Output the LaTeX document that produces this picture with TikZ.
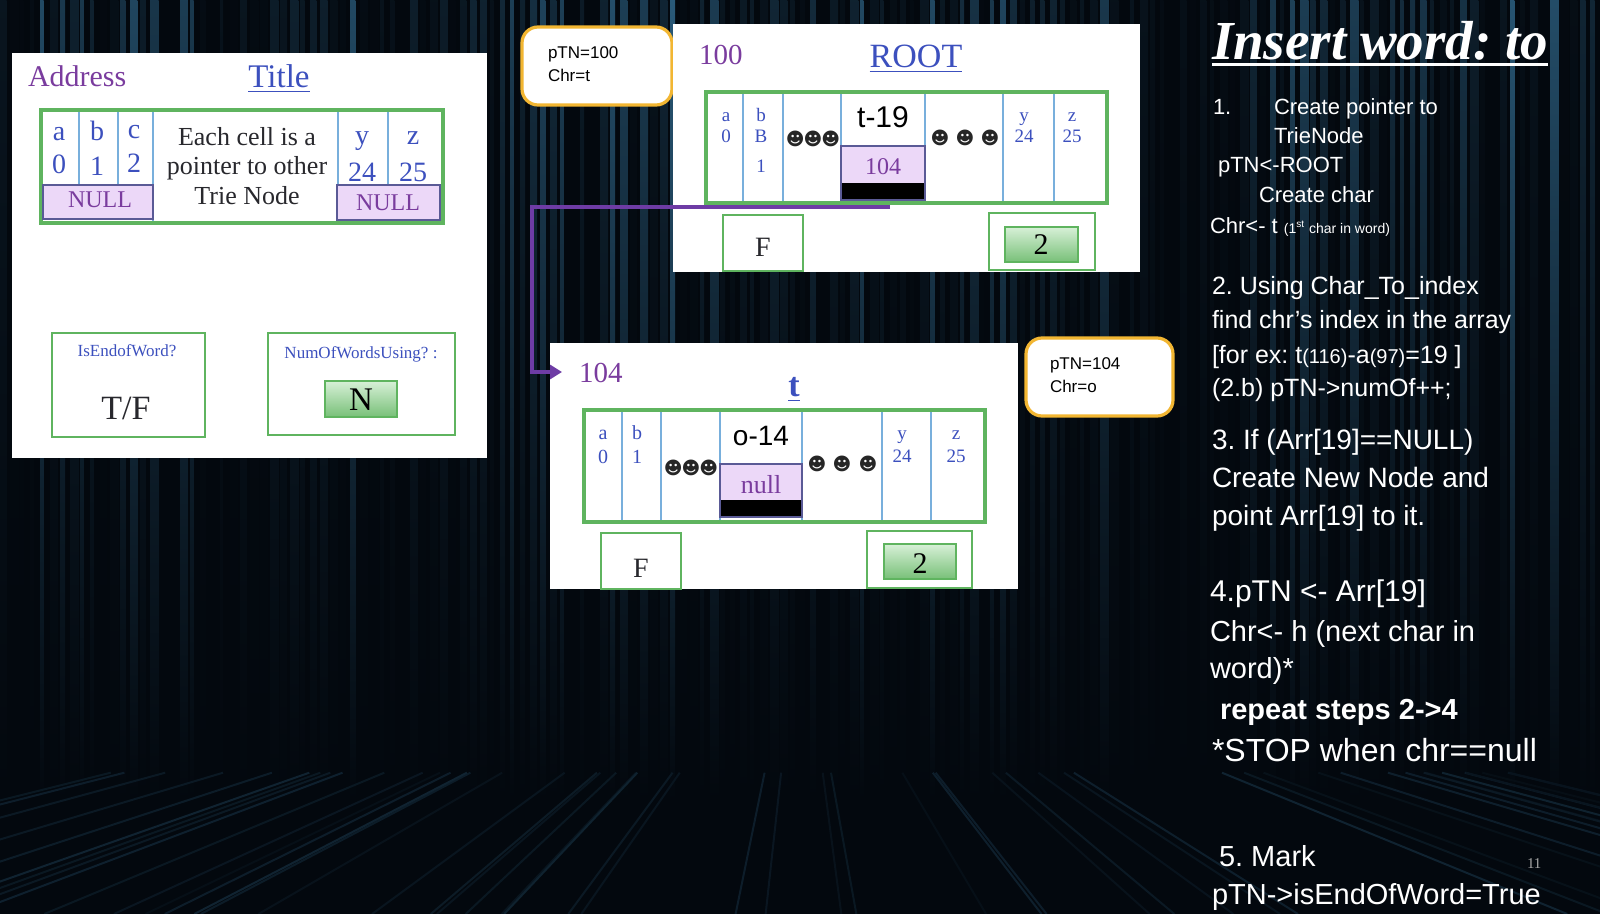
\documentclass[tikz,border=0pt]{standalone}
\usepackage{fontspec}
\setmainfont{Liberation Serif}
\setsansfont{Liberation Sans}
\newfontfamily\dejavu{DejaVu Sans}
\usetikzlibrary{fit,arrows.meta,calc}
\definecolor{grn}{RGB}{95,180,95}
\definecolor{lblue}{RGB}{120,175,220}
\definecolor{purp}{RGB}{122,60,158}
\definecolor{tblue}{RGB}{60,80,190}
\definecolor{lav}{RGB}{236,216,248}
\definecolor{lavb}{RGB}{90,90,150}
\definecolor{gold}{RGB}{242,182,50}
\definecolor{matblue}{RGB}{70,150,200}
\definecolor{ngreenA}{RGB}{215,240,215}
\definecolor{ngreenB}{RGB}{120,192,120}
\definecolor{arrowp}{RGB}{110,60,165}
\definecolor{dgray}{RGB}{40,40,45}
\definecolor{bgblack}{RGB}{3,8,14}
\newcommand\fz[1]{\fontsize{#1}{#1}\selectfont}
\frenchspacing
\tikzset{
  txt/.style={inner sep=0pt, outer sep=0pt},
  panel/.style={fill=white, inner sep=0pt, outer sep=0pt},
  arrbox/.style={draw=grn, line width=1.6pt, inner sep=0pt},
  divl/.style={draw=lblue, line width=0.9pt},
  nullbox/.style={fill=lav, draw=lavb, line width=1.3pt, inner sep=0pt},
  fieldbox/.style={fill=white, draw=grn, line width=1.2pt, inner sep=0pt},
  cntbox/.style={top color=ngreenA, bottom color=ngreenB, draw=grn, line width=0.8pt, inner sep=0pt},
  ptnbox/.style={fill=white, draw=gold, line width=1.6pt, rounded corners=8pt, inner sep=0pt},
  lbl/.style={txt, anchor=base, text=tblue, font=\fz{9.5pt}},
  smile/.style={txt, font=\dejavu\fz{9pt}, text=black!85},
  ptr/.style={draw=arrowp, line width=2pt, -{Triangle[length=6pt,width=7pt]}},
  rt/.style={txt, anchor=base west, text=white, font=\sffamily\fz{11pt}},
}
\begin{document}
\begin{tikzpicture}[x=0.5pt,y=-0.5pt]
\useasboundingbox (0,0) rectangle (1600,914);
% ---------- background ----------
\fill[bgblack] (0,0) rectangle (1600,914);
\pgfmathsetseed{12}
\foreach \i in {0,...,159}{
  \pgfmathsetmacro\b{int(rnd*rnd*60)}
  \pgfmathsetmacro\w{3+rnd*6}
  \shade[top color=matblue!\b!bgblack, bottom color=bgblack] (\i*10,0) rectangle (\i*10+\w,800);
}
\foreach \i in {0,...,50}{
  \pgfmathsetmacro\xb{rnd*2600-500}
  \pgfmathsetmacro\b{int(4+rnd*16)}
  \draw[matblue!\b!bgblack, line width=1pt] (\xb,914) -- ($(\xb,914)!0.45!(800,600)$);
}
% ---------- left legend panel ----------
\node[panel, fit={(12,53) (487,458)}] (lp) {};
\node[txt, anchor=base west, text=purp, font=\fz{15pt}] (addr) at (28,87) {Address};
\node[txt, anchor=base, text=tblue, font=\fz{16.5pt}] (ttl) at (279,88) {\underline{Title}};
\foreach \x in {79,118,338,388} \draw[divl] (\x,110) -- (\x,185);
\draw[divl] (153,110) -- (153,223);
\node[arrbox, fit={(41,110) (443,223)}] (larr) {};
\node[nullbox, fit={(43,185) (153,219)}] (ln1) {};
\node[nullbox, fit={(337,185) (440,220)}] (ln2) {};
\node[txt, anchor=base, text=tblue, font=\fz{14pt}] (la) at (59,141) {a};
\node[txt, anchor=base, text=tblue, font=\fz{14pt}] (l0) at (59,174) {0};
\node[txt, anchor=base, text=tblue, font=\fz{14pt}] (lb) at (97,141) {b};
\node[txt, anchor=base, text=tblue, font=\fz{14pt}] (l1) at (97,176) {1};
\node[txt, anchor=base, text=tblue, font=\fz{14pt}] (lc) at (134,139) {c};
\node[txt, anchor=base, text=tblue, font=\fz{14pt}] (l2) at (134,173) {2};
\node[txt, anchor=base, text=tblue, font=\fz{14pt}] (ly) at (362,145) {y};
\node[txt, anchor=base, text=tblue, font=\fz{14pt}] (l24) at (362,182) {24};
\node[txt, anchor=base, text=tblue, font=\fz{14pt}] (lz) at (413,145) {z};
\node[txt, anchor=base, text=tblue, font=\fz{14pt}] (l25) at (413,182) {25};
\node[txt, anchor=base, text=dgray, font=\fz{13pt}] (m1) at (247,146) {Each cell is a};
\node[txt, anchor=base, text=dgray, font=\fz{13pt}] (m2) at (247,175) {pointer to other};
\node[txt, anchor=base, text=dgray, font=\fz{13pt}] (m3) at (247,205) {Trie Node};
\node[txt, anchor=base, text=purp, font=\fz{12pt}] (ln1t) at (100,208) {NULL};
\node[txt, anchor=base, text=purp, font=\fz{12pt}] (ln2t) at (388,211) {NULL};
\node[fieldbox, fit={(52,333) (205,437)}] (eow) {};
\node[txt, anchor=base, text=tblue, font=\fz{8.5pt}] (eowt) at (127,357) {IsEndofWord?};
\node[txt, anchor=base, text=dgray, font=\fz{17pt}] (tf) at (126,420) {T/F};
\node[fieldbox, fit={(268,333) (455,435)}] (nw) {};
\node[txt, anchor=base, text=tblue, font=\fz{8.5pt}] (nwt) at (361,358) {NumOfWordsUsing? :};
\node[cntbox, fit={(325,381) (397,417)}] (nbox) {};
\node[txt, anchor=base, text=black, font=\fz{16.5pt}] (nt) at (361,410) {N};
% ---------- ROOT node ----------
\node[ptnbox, fit={(522,27) (672,105)}] (p100) {};
\node[txt, anchor=base west, font=\sffamily\fz{8.5pt}] (p100a) at (548,59) {pTN=100};
\node[txt, anchor=base west, font=\sffamily\fz{8.5pt}] (p100b) at (548,82) {Chr=t};
\node[panel, fit={(673,24) (1140,272)}] (rp) {};
\node[txt, anchor=base west, text=purp, font=\fz{14.5pt}] (r100) at (699,65) {100};
\node[txt, anchor=base, text=tblue, font=\fz{17pt}] (root) at (916,68) {\underline{ROOT}};
\foreach \x in {743,783,841,925,1003,1054} \draw[divl] (\x,92) -- (\x,203);
\node[arrbox, fit={(706,92) (1107,203)}] (rarr) {};
\node[nullbox, fit={(841,146) (925,200)}] (r104) {};
\fill[black] (842,183) rectangle (924,199);
\node[txt, anchor=base, font=\sffamily\fz{15pt}] (t19) at (883,128) {t-19};
\node[txt, anchor=base, text=purp, font=\fz{12pt}] (r104t) at (883,175) {104};
\node[lbl] (ra) at (726,122) {a};
\node[lbl] (r0) at (726,143) {0};
\node[lbl] (rb) at (761,122) {b};
\node[lbl] (rB) at (761,143) {B};
\node[lbl] (r1) at (761,173) {1};
\node[lbl] (ry) at (1024,122) {y};
\node[lbl] (r24) at (1024,143) {24};
\node[lbl] (rz) at (1072,122) {z};
\node[lbl] (r25) at (1072,143) {25};
\node[smile] (rs1) at (813,139) {☻\kern-0.5pt☻\kern-0.5pt☻};
\node[smile] (rs2) at (940,138) {☻};
\node[smile] (rs3) at (965,138) {☻};
\node[smile] (rs4) at (990,138) {☻};
\node[fieldbox, fit={(723,215) (803,271)}] (rF) {};
\node[txt, anchor=base, text=dgray, font=\fz{14pt}] (rFt) at (763,257) {F};
\node[fieldbox, fit={(989,213) (1095,270)}] (r2o) {};
\node[cntbox, fit={(1005,227) (1078,262)}] (r2i) {};
\node[txt, anchor=base, text=black, font=\fz{15pt}] (r2t) at (1041,255) {2};
% ---------- node t ----------
\node[panel, fit={(550,343) (1018,589)}] (tp) {};
\node[txt, anchor=base west, text=purp, font=\fz{14.5pt}] (t104) at (579,383) {104};
\node[txt, anchor=base, text=tblue, font=\bfseries\fz{17pt}] (tt) at (794,397) {\underline{t}};
\foreach \x in {622,661,720,802,882,931} \draw[divl] (\x,410) -- (\x,522);
\node[arrbox, fit={(584,410) (985,522)}] (tarr) {};
\node[nullbox, fit={(720,464) (802,517)}] (tnull) {};
\fill[black] (721,500) rectangle (801,516);
\node[txt, anchor=base, font=\sffamily\fz{14pt}] (o14) at (761,445) {o-14};
\node[txt, anchor=base, text=purp, font=\fz{13pt}] (tnullt) at (761,493) {null};
\node[lbl, font=\fz{10pt}] (ta) at (603,439) {a};
\node[lbl, font=\fz{10pt}] (t0) at (603,463) {0};
\node[lbl, font=\fz{10pt}] (tb) at (637,439) {b};
\node[lbl, font=\fz{10pt}] (t1) at (637,463) {1};
\node[lbl] (ty) at (902,439) {y};
\node[lbl] (t24) at (902,462) {24};
\node[lbl] (tz) at (956,439) {z};
\node[lbl] (t25) at (956,462) {25};
\node[smile] (ts1) at (691,468) {☻\kern-0.5pt☻\kern-0.5pt☻};
\node[smile] (ts2) at (817,464) {☻};
\node[smile] (ts3) at (842,464) {☻};
\node[smile] (ts4) at (868,464) {☻};
\node[fieldbox, fit={(601,533) (681,589)}] (tF) {};
\node[txt, anchor=base, text=dgray, font=\fz{14pt}] (tFt) at (641,577) {F};
\node[fieldbox, fit={(867,531) (972,588)}] (t2o) {};
\node[cntbox, fit={(884,544) (956,579)}] (t2i) {};
\node[txt, anchor=base, text=black, font=\fz{15pt}] (t2t) at (920,573) {2};
\node[ptnbox, fit={(1026,338) (1173,416)}] (p104) {};
\node[txt, anchor=base west, font=\sffamily\fz{8.5pt}] (p104a) at (1050,370) {pTN=104};
\node[txt, anchor=base west, font=\sffamily\fz{8.5pt}] (p104b) at (1050,393) {Chr=o};
% ---------- pointer ----------
\coordinate (pstart) at (890,207);
\coordinate (bend) at (532,207);
\coordinate (tip) at (562,372);
\draw[ptr] (pstart) -- (bend) |- (tip);
% ---------- right text ----------
\node[txt, anchor=base west, text=white, font=\bfseries\itshape\fz{27.5pt}] (head) at (1212,60) {Insert word: to};
\draw[white, line width=1.2pt] ([yshift=-2.2pt]head.base west) -- ([yshift=-2.2pt]head.base east);
\node[rt] (s1a) at (1213,115) {1.};
\node[rt] (s1b) at (1274,115) {Create pointer to};
\node[rt] (s1c) at (1274,144) {TrieNode};
\node[rt] (s1d) at (1218,173) {pTN<-ROOT};
\node[rt] (s1e) at (1259,203) {Create char};
\node[rt] (s1f) at (1210,234) {Chr<- t {\fz{7pt}(1\textsuperscript{st} char in word)}};
\node[rt, font=\sffamily\fz{12.5pt}] (s2a) at (1212,295) {2. Using Char\_To\_index};
\node[rt, font=\sffamily\fz{12.5pt}] (s2b) at (1212,329) {find chr’s index in the array};
\node[rt, font=\sffamily\fz{12.5pt}] (s2c) at (1212,364) {[for ex: t{\fz{10pt}(116)}-a{\fz{10pt}(97)}=19 ]};
\node[rt, font=\sffamily\fz{12.5pt}] (s2d) at (1212,396) {(2.b) pTN->numOf++;};
\node[rt, font=\sffamily\fz{14pt}] (s3a) at (1212,450) {3. If (Arr[19]==NULL)};
\node[rt, font=\sffamily\fz{14pt}] (s3b) at (1212,487) {Create New Node and};
\node[rt, font=\sffamily\fz{14pt}] (s3c) at (1212,525) {point Arr[19] to it.};
\node[rt, font=\sffamily\fz{15pt}] (s4a) at (1210,601) {4.pTN <- Arr[19]};
\node[rt, font=\sffamily\fz{14.5pt}] (s4b) at (1210,641) {Chr<- h (next char in};
\node[rt, font=\sffamily\fz{14.5pt}] (s4c) at (1210,678) {word)*};
\node[rt, font=\sffamily\bfseries\fz{14.5pt}] (s4d) at (1220,719) {repeat steps 2->4};
\node[rt, font=\sffamily\fz{16pt}] (s4e) at (1212,761) {*STOP when chr==null};
\node[rt, font=\sffamily\fz{14.5pt}] (s5a) at (1219,866) {5. Mark};
\node[rt, font=\sffamily\fz{14.5pt}] (s5b) at (1212,904) {pTN->isEndOfWord=True};
\node[txt, anchor=base west, text=gray!70, font=\fz{7.5pt}] (pg) at (1527,868) {11};
\end{tikzpicture}
\end{document}
